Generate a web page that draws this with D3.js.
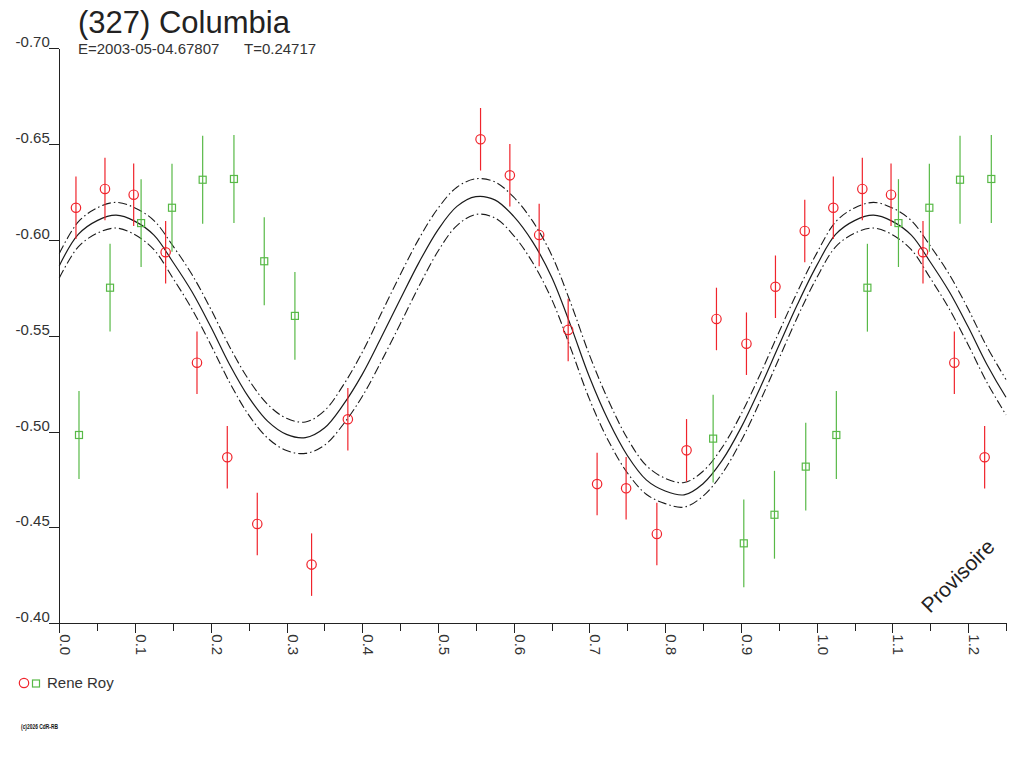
<!DOCTYPE html>
<html lang="fr">
<head>
<meta charset="UTF-8">
<title>(327) Columbia</title>
<script src="https://d3js.org/d3.v7.min.js"></script>
<style>
  body { margin: 0; background: #fff; }
  svg { display: block; font-family: "Liberation Sans", Arial, sans-serif; }
  .axis path, .axis line { stroke: #222; shape-rendering: crispEdges; }
  .axis text { fill: #333; font-size: 15px; font-family: "Liberation Sans", Arial, sans-serif; }
</style>
</head>
<body>
<svg id="chart" width="1024" height="768"></svg>
<script>
// axis ticks
const xMajor = [0.0, 0.1, 0.2, 0.3, 0.4, 0.5, 0.6, 0.7, 0.8, 0.9, 1.0, 1.1, 1.2];
const xMinor = [0.05, 0.15, 0.25, 0.35, 0.45, 0.55, 0.65, 0.75, 0.85, 0.95, 1.05, 1.15, 1.25];
const yTicks = [-0.70, -0.65, -0.60, -0.55, -0.50, -0.45, -0.40];

// Rene Roy, first set (red circles)
const redPhase = [0.022, 0.0603, 0.0982, 0.1404, 0.1818, 0.2218, 0.2614, 0.3331, 0.381,
  0.5562, 0.5949, 0.6336, 0.6719, 0.7101, 0.7484, 0.789, 0.8282, 0.8677, 0.9073, 0.9456, 0.9843];
const redMag = [-0.6167, -0.6265, -0.6235, -0.5935, -0.5359, -0.4866, -0.4518, -0.4306, -0.5064,
  -0.6524, -0.6336, -0.6025, -0.5530, -0.4726, -0.4704, -0.4466, -0.4902, -0.5587, -0.5458, -0.5755, -0.6046];
const redErr = 0.0163;

// Rene Roy, second set (green squares)
const greenPhase = [0.026, 0.067, 0.108, 0.1488, 0.1893, 0.2306, 0.2706, 0.3111, 0.8633, 0.9038, 0.9443, 0.9856];
const greenMag = [-0.4982, -0.5750, -0.6087, -0.6167, -0.6313, -0.6317, -0.5888, -0.5603, -0.4963, -0.4417, -0.4566, -0.4817];
const greenErr = 0.0229;

// fitted light curve over one period, and half width of its band
const fitPhase = [0.000, 0.025, 0.050, 0.075, 0.100, 0.125, 0.150, 0.175, 0.200, 0.225,
  0.250, 0.275, 0.300, 0.325, 0.350, 0.375, 0.400, 0.425, 0.450, 0.475,
  0.500, 0.525, 0.550, 0.575, 0.600, 0.625, 0.650, 0.675, 0.700, 0.725,
  0.750, 0.775, 0.800, 0.825, 0.850, 0.875, 0.900, 0.925, 0.950, 0.975];
const fitMag = [-0.5865, -0.6028, -0.6100, -0.6128, -0.6096, -0.6024, -0.5884, -0.5730, -0.5546, -0.5348,
  -0.5179, -0.5054, -0.4985, -0.4968, -0.5018, -0.5140, -0.5298, -0.5490, -0.5688, -0.5882,
  -0.6052, -0.6174, -0.6225, -0.6208, -0.6122, -0.5989, -0.5806, -0.5555, -0.5284, -0.5057,
  -0.4875, -0.4748, -0.4690, -0.4670, -0.4728, -0.4848, -0.5019, -0.5225, -0.5447, -0.5666];
const fitBand = [0.0064, 0.0065, 0.0066, 0.0067, 0.0070, 0.0076, 0.0084, 0.0090, 0.0093, 0.0093,
  0.0092, 0.0088, 0.0084, 0.0082, 0.0090, 0.0102, 0.0115, 0.0125, 0.0128, 0.0124,
  0.0112, 0.0100, 0.0093, 0.0094, 0.0100, 0.0108, 0.0115, 0.0118, 0.0115, 0.0105,
  0.0090, 0.0075, 0.0066, 0.0064, 0.0065, 0.0068, 0.0070, 0.0070, 0.0069, 0.0066];

const maxPhase = 1.25;

const svg = d3.select("#chart");

const x = d3.scaleLinear().domain([0, maxPhase]).range([59.3, 1006]);
const y = d3.scaleLinear().domain([-0.70, -0.40]).range([48, 623.3]);

// points are shown again one period later as long as they fit
function wrap(phases, mags) {
  const out = [];
  phases.forEach((p, i) => {
    [0, 1].forEach(k => {
      if (p + k <= maxPhase + 1e-9) out.push({phase: p + k, mag: mags[i]});
    });
  });
  return out.sort((a, b) => a.phase - b.phase);
}

const fit = [];
[0, 1].forEach(k => {
  fitPhase.forEach((p, i) => {
    if (p + k <= maxPhase + 1e-9) fit.push({phase: p + k, mag: fitMag[i], band: fitBand[i]});
  });
});

// axes
const yAxis = svg.append("g")
  .attr("class", "axis")
  .attr("transform", `translate(${x(0)},0)`)
  .call(d3.axisLeft(y).tickValues(yTicks).tickSize(10).tickSizeOuter(0).tickFormat(d => d.toFixed(2)));
yAxis.selectAll(".tick text")
  .attr("x", -9.5)
  .attr("dy", "-1.5px")
  .attr("text-anchor", "end");

const xAxis = svg.append("g")
  .attr("class", "axis")
  .attr("transform", `translate(0,${y(-0.40)})`)
  .call(d3.axisBottom(x).tickValues(xMajor).tickSize(10).tickSizeOuter(0).tickFormat(d => d.toFixed(1)));
xAxis.select(".domain").remove();
xAxis.selectAll(".tick text")
  .attr("transform", "rotate(90)")
  .attr("x", 11)
  .attr("y", -0.5)
  .attr("dy", 0)
  .attr("text-anchor", "start");

svg.append("g")
  .attr("class", "axis")
  .attr("transform", `translate(0,${y(-0.40)})`)
  .call(d3.axisBottom(x).tickValues(xMinor).tickSize(8).tickSizeOuter(0).tickFormat(""))
  .select(".domain").remove();

svg.append("line")
  .attr("x1", x(0) - 10).attr("x2", x(maxPhase))
  .attr("y1", y(-0.40)).attr("y2", y(-0.40))
  .attr("stroke", "#222")
  .attr("shape-rendering", "crispEdges");

// fitted curve and its band
const line = d3.line().x(d => x(d.phase)).curve(d3.curveCatmullRom);

svg.append("path")
  .datum(fit)
  .attr("fill", "none")
  .attr("stroke", "#1a1a1a")
  .attr("stroke-width", 1.2)
  .attr("d", line.y(d => y(d.mag)));

[-1, 1].forEach(s => {
  svg.append("path")
    .datum(fit)
    .attr("fill", "none")
    .attr("stroke", "#1a1a1a")
    .attr("stroke-width", 1.1)
    .attr("stroke-dasharray", "9,3,1.5,3")
    .attr("d", line.y(d => y(d.mag + s * d.band)));
});

// observations
const red = "#f0242c";
const green = "#58b947";

const redPts = wrap(redPhase, redMag);
const greenPts = wrap(greenPhase, greenMag);

svg.append("g").selectAll("line")
  .data(greenPts).join("line")
  .attr("x1", d => x(d.phase)).attr("x2", d => x(d.phase))
  .attr("y1", d => y(d.mag - greenErr)).attr("y2", d => y(d.mag + greenErr))
  .attr("stroke", green).attr("stroke-width", 1.2);

svg.append("g").selectAll("rect")
  .data(greenPts).join("rect")
  .attr("x", d => x(d.phase) - 3.5).attr("y", d => y(d.mag) - 3.5)
  .attr("width", 7).attr("height", 7)
  .attr("fill", "none").attr("stroke", green).attr("stroke-width", 1.2);

svg.append("g").selectAll("line")
  .data(redPts).join("line")
  .attr("x1", d => x(d.phase)).attr("x2", d => x(d.phase))
  .attr("y1", d => y(d.mag - redErr)).attr("y2", d => y(d.mag + redErr))
  .attr("stroke", red).attr("stroke-width", 1.2);

svg.append("g").selectAll("circle")
  .data(redPts).join("circle")
  .attr("cx", d => x(d.phase)).attr("cy", d => y(d.mag))
  .attr("r", 4.7)
  .attr("fill", "none").attr("stroke", red).attr("stroke-width", 1.2);

// titles
svg.append("text")
  .attr("x", 78).attr("y", 33)
  .attr("font-size", 31).attr("fill", "#222")
  .text("(327) Columbia");

svg.append("text")
  .attr("x", 78).attr("y", 54)
  .attr("font-size", 15).attr("fill", "#333")
  .text("E=2003-05-04.67807");

svg.append("text")
  .attr("x", 244).attr("y", 54)
  .attr("font-size", 15).attr("fill", "#333")
  .text("T=0.24717");

svg.append("text")
  .attr("transform", "translate(930,614) rotate(-45)")
  .attr("font-size", 21).attr("fill", "#222")
  .text("Provisoire");

// legend
svg.append("circle")
  .attr("cx", 24).attr("cy", 683).attr("r", 4.7)
  .attr("fill", "none").attr("stroke", red).attr("stroke-width", 1.2);
svg.append("rect")
  .attr("x", 32.5).attr("y", 680).attr("width", 7).attr("height", 7)
  .attr("fill", "none").attr("stroke", green).attr("stroke-width", 1.2);
svg.append("text")
  .attr("x", 47).attr("y", 688)
  .attr("font-size", 15).attr("fill", "#333")
  .text("Rene Roy");

svg.append("text")
  .attr("x", 21).attr("y", 729)
  .attr("font-size", 7.5).attr("font-weight", "bold").attr("fill", "#111")
  .attr("textLength", 37).attr("lengthAdjust", "spacingAndGlyphs")
  .text("(c)2026 CdR-RB");
</script>
</body>
</html>
